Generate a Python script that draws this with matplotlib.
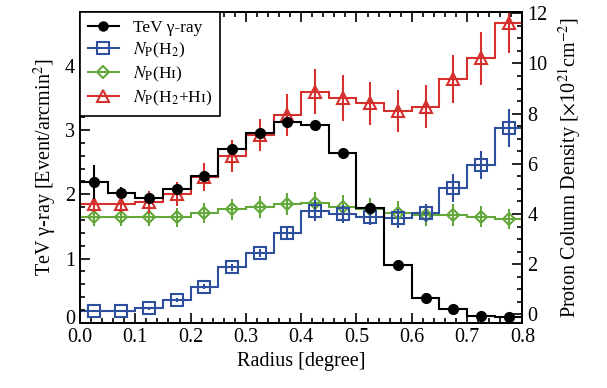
import numpy as np
import matplotlib
matplotlib.use("Agg")
import matplotlib.pyplot as plt
import matplotlib.transforms as mtransforms
from matplotlib.lines import Line2D
from matplotlib.ticker import MultipleLocator

plt.rcParams['font.family'] = ['Liberation Serif', 'DejaVu Serif']
plt.rcParams['mathtext.fontset'] = 'stix'

# ---- data ----
radius = [0.025, 0.075, 0.125, 0.175, 0.225, 0.275, 0.325, 0.375,
          0.425, 0.475, 0.525, 0.575, 0.625, 0.675, 0.725, 0.775]
bin_width = 0.05

tev = [2.19, 2.02, 1.94, 2.09, 2.28, 2.71, 2.95, 3.12,
       3.08, 2.64, 1.78, 0.90, 0.39, 0.21, 0.11, 0.09]
tev_err = [0.27, 0.10, 0.06, 0.06, 0.06, 0.06, 0.06, 0.06,
           0.05, 0.05, 0.05, 0.04, 0.03, 0.03, 0.02, 0.02]

np_h2 = [0.13, 0.14, 0.25, 0.58, 1.11, 1.87, 2.44, 3.23,
         4.14, 4.00, 3.90, 3.83, 4.03, 5.03, 5.96, 7.42]
np_h2_err = [0.05, 0.05, 0.06, 0.08, 0.10, 0.13, 0.16, 0.25,
             0.43, 0.35, 0.35, 0.38, 0.35, 0.55, 0.56, 0.76]

np_hi = [3.87, 3.87, 3.90, 3.87, 4.03, 4.19, 4.27, 4.40,
         4.43, 4.29, 4.19, 4.06, 3.96, 3.96, 3.90, 3.80]
np_hi_err = [0.33, 0.35, 0.38, 0.38, 0.40, 0.42, 0.43, 0.45,
             0.45, 0.48, 0.45, 0.45, 0.42, 0.42, 0.40, 0.40]

np_tot = [4.39, 4.40, 4.49, 4.80, 5.47, 6.31, 7.15, 7.95,
          8.88, 8.62, 8.41, 8.12, 8.28, 9.39, 10.21, 11.60]
np_tot_err = [0.31, 0.31, 0.43, 0.48, 0.56, 0.64, 0.65, 0.83,
              0.88, 0.90, 0.86, 0.84, 0.86, 0.96, 1.06, 1.17]

SMALL_I = "\u026a"
labels = ["TeV \u03b3-ray",
          r"$N_{\mathrm{P}}$(H$_2$)",
          r"$N_{\mathrm{P}}$(H" + SMALL_I + ")",
          r"$N_{\mathrm{P}}$(H$_2$+H" + SMALL_I + ")"]

c_black = 'black'
c_blue = '#2d4f9e'
c_green = '#64a83c'
c_red = '#d3302e'

x = np.array(radius)
edges = np.concatenate([x - bin_width / 2, [x[-1] + bin_width / 2]])

fig = plt.figure(figsize=(6.07, 3.88), dpi=100)
ax = fig.add_axes([0.1318, 0.1683, 0.7287, 0.8015])
ax2 = ax.twinx()

lw = 1.5


def draw(axis, vals, errs, color, marker, ms, mfc):
    axis.stairs(vals, edges, baseline=None, color=color, lw=lw)
    axis.errorbar(x, vals, yerr=errs, fmt='none', ecolor=color, elinewidth=lw)
    axis.plot(x, vals, ls='none', marker=marker, ms=ms, mfc=mfc, mec=color, mew=1.5)


draw(ax2, np_hi, np_hi_err, c_green, 'D', 6.5, 'none')
draw(ax2, np_h2, np_h2_err, c_blue, 's', 8, 'none')
draw(ax2, np_tot, np_tot_err, c_red, '^', 8.5, 'none')
draw(ax, tev, tev_err, c_black, 'o', 6.5, c_black)

ax.set_zorder(ax2.get_zorder() + 1)
ax.patch.set_visible(False)

ax.set_xlim(0, 0.8)
ax.set_ylim(0, 4.845)
ax2.set_ylim(-0.33, 12.06)

ax.xaxis.set_major_locator(MultipleLocator(0.1))
ax.xaxis.set_minor_locator(MultipleLocator(0.02))
ax.yaxis.set_major_locator(MultipleLocator(1))
ax.yaxis.set_minor_locator(MultipleLocator(0.2))
ax2.yaxis.set_major_locator(MultipleLocator(2))
ax2.yaxis.set_minor_locator(MultipleLocator(0.5))

ax.tick_params(which='both', direction='in', top=True, right=False, labelsize=14.5, width=1.2)
ax.tick_params(which='major', length=7)
ax.tick_params(which='minor', length=3.5)
ax2.tick_params(which='both', direction='in', labelsize=14.5, width=1.2)
ax2.tick_params(which='major', length=7)
ax2.tick_params(which='minor', length=3.5)

ax.set_xticks(np.arange(0, 0.81, 0.1))
ax.set_xticklabels([f"{v:.1f}" for v in np.arange(0, 0.81, 0.1)])
ax.set_yticks([0, 1, 2, 3, 4])
ax.set_yticklabels(["0", "1", "2", "3", "4"])

# raise the left "0" label slightly, as in the reference
lbl0 = ax.yaxis.get_major_ticks()[0].label1
lbl0.set_transform(lbl0.get_transform() +
                   mtransforms.ScaledTranslation(0, 4 / 72, fig.dpi_scale_trans))

for a in (ax, ax2):
    for s in a.spines.values():
        s.set_linewidth(1.3)

ax.set_xlabel("Radius [degree]", fontsize=14.5, labelpad=4)
ax.set_ylabel("TeV \u03b3-ray [Event/arcmin$^2$]", fontsize=14.5, labelpad=4)
ax2.set_ylabel(r"Proton Column Density [$\times$10$^{21}$cm$^{-2}$]", fontsize=14.5, labelpad=6)

handles = [
    Line2D([], [], color=c_black, lw=lw, marker='o', ms=6.5, mfc=c_black, mec=c_black),
    Line2D([], [], color=c_blue, lw=lw, marker='s', ms=8, mfc='none', mec=c_blue, mew=1.5),
    Line2D([], [], color=c_green, lw=lw, marker='D', ms=6.5, mfc='none', mec=c_green, mew=1.5),
    Line2D([], [], color=c_red, lw=lw, marker='^', ms=8.5, mfc='none', mec=c_red, mew=1.5),
]
leg = ax.legend(handles, labels, loc='upper left', borderaxespad=0, fontsize=12.5,
                fancybox=False, framealpha=1, edgecolor='black', handlelength=1.8,
                labelspacing=0.28, borderpad=0.45, handletextpad=0.8)
leg.get_frame().set_linewidth(1.2)

fig.savefig("out.png", dpi=100)
